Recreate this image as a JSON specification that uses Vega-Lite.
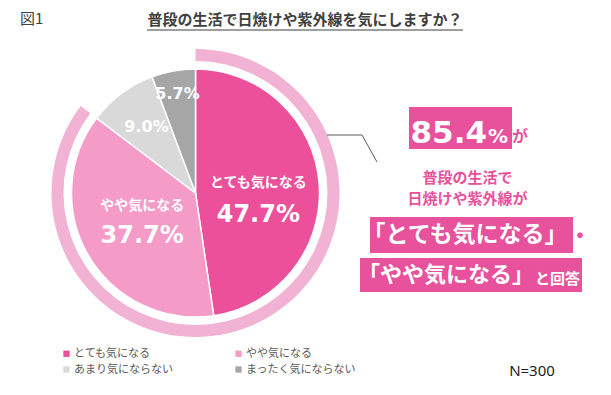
{
  "$schema": "https://vega.github.io/schema/vega-lite/v6.json",
  "width": 611,
  "height": 395,
  "padding": 0,
  "autosize": {"type": "none"},
  "background": "white",
  "config": {"view": {"stroke": null}},
  "data": {"values": [
    {"cat": "とても気になる", "value": 47.7, "label": "47.7%", "rank": 1},
    {"cat": "やや気になる", "value": 37.7, "label": "37.7%", "rank": 2},
    {"cat": "あまり気にならない", "value": 9.0, "label": "9.0%", "rank": 3},
    {"cat": "まったく気にならない", "value": 5.7, "label": "5.7%", "rank": 4}
  ]},
  "layer": [
    {
      "transform": [
        {"filter": {"field": "cat", "oneOf": ["とても気になる", "やや気になる"]}},
        {"aggregate": [{"op": "sum", "field": "value", "as": "total"}]}
      ],
      "mark": {"type": "arc", "radius": 144, "radius2": 132, "color": "#f2b2d3"},
      "encoding": {
        "theta": {"field": "total", "type": "quantitative", "stack": true},
        "x": {"datum": 195.5, "type": "quantitative", "scale": {"domain": [0, 611], "nice": false, "zero": false}, "axis": null},
        "y": {"datum": 193, "type": "quantitative", "scale": {"domain": [0, 395], "nice": false, "zero": false, "reverse": true}, "axis": null}
      }
    },
    {
      "mark": {"type": "arc", "radius": 124, "stroke": "white", "strokeWidth": 1.5},
      "encoding": {
        "theta": {"field": "value", "type": "quantitative", "stack": true},
        "order": {"field": "rank"},
        "color": {
          "field": "cat", "type": "nominal",
          "scale": {"domain": ["とても気になる", "やや気になる", "あまり気にならない", "まったく気にならない"], "range": ["#ec509b", "#f59bc8", "#d9d9d9", "#a6a6a6"]},
          "legend": {"orient": "none", "direction": "horizontal", "legendX": 61, "legendY": 348, "columns": 2, "columnPadding": 60, "rowPadding": 4, "symbolType": "square", "symbolSize": 40, "symbolStrokeWidth": 0, "labelFont": "Noto Sans CJK JP", "labelFontSize": 11, "labelColor": "#595959", "title": null, "labelOffset": 2, "padding": 0}
        },
        "x": {"datum": 195.5, "type": "quantitative"},
        "y": {"datum": 193, "type": "quantitative"}
      }
    },
    {
      "mark": {"type": "text", "radius": 63, "dy": -5.5, "font": "Noto Sans CJK JP", "fontSize": 14, "fontWeight": "bold", "color": "white"},
      "encoding": {
        "theta": {"field": "value", "type": "quantitative", "stack": true},
        "order": {"field": "rank"}, "detail": {"field": "cat"},
        "x": {"datum": 195.5, "type": "quantitative"}, "y": {"datum": 193, "type": "quantitative"},
        "text": {"condition": {"test": "datum.cat === 'とても気になる'", "field": "cat"}, "value": ""}
      }
    },
    {
      "mark": {"type": "text", "radius": 63, "dy": 26.5, "font": "DejaVu Sans", "fontSize": 24, "fontWeight": "bold", "color": "white"},
      "encoding": {
        "theta": {"field": "value", "type": "quantitative", "stack": true},
        "order": {"field": "rank"}, "detail": {"field": "cat"},
        "x": {"datum": 195.5, "type": "quantitative"}, "y": {"datum": 193, "type": "quantitative"},
        "text": {"condition": {"test": "datum.cat === 'とても気になる'", "field": "label"}, "value": ""}
      }
    },
    {
      "mark": {"type": "text", "radius": 62, "dy": -19, "font": "Noto Sans CJK JP", "fontSize": 14, "fontWeight": "bold", "color": "white"},
      "encoding": {
        "theta": {"field": "value", "type": "quantitative", "stack": true},
        "order": {"field": "rank"}, "detail": {"field": "cat"},
        "x": {"datum": 195.5, "type": "quantitative"}, "y": {"datum": 193, "type": "quantitative"},
        "text": {"condition": {"test": "datum.cat === 'やや気になる'", "field": "cat"}, "value": ""}
      }
    },
    {
      "mark": {"type": "text", "radius": 62, "dy": 11, "font": "DejaVu Sans", "fontSize": 24, "fontWeight": "bold", "color": "white"},
      "encoding": {
        "theta": {"field": "value", "type": "quantitative", "stack": true},
        "order": {"field": "rank"}, "detail": {"field": "cat"},
        "x": {"datum": 195.5, "type": "quantitative"}, "y": {"datum": 193, "type": "quantitative"},
        "text": {"condition": {"test": "datum.cat === 'やや気になる'", "field": "label"}, "value": ""}
      }
    },
    {
      "mark": {"type": "text", "radius": 82, "font": "DejaVu Sans", "fontSize": 16, "fontWeight": "bold", "color": "white"},
      "encoding": {
        "theta": {"field": "value", "type": "quantitative", "stack": true},
        "order": {"field": "rank"}, "detail": {"field": "cat"},
        "x": {"datum": 195.5, "type": "quantitative"}, "y": {"datum": 193, "type": "quantitative"},
        "text": {"condition": {"test": "datum.cat === 'あまり気にならない'", "field": "label"}, "value": ""}
      }
    },
    {
      "mark": {"type": "text", "radius": 101, "font": "DejaVu Sans", "fontSize": 16, "fontWeight": "bold", "color": "white"},
      "encoding": {
        "theta": {"field": "value", "type": "quantitative", "stack": true},
        "order": {"field": "rank"}, "detail": {"field": "cat"},
        "x": {"datum": 195.5, "type": "quantitative"}, "y": {"datum": 193, "type": "quantitative"},
        "text": {"condition": {"test": "datum.cat === 'まったく気にならない'", "field": "label"}, "value": ""}
      }
    },
    {
      "data": {"values": [{"t": "図1"}]},
      "mark": {"type": "text", "align": "left", "baseline": "middle", "font": "Noto Sans CJK JP", "fontSize": 15, "color": "#404040"},
      "encoding": {"text": {"field": "t"}, "x": {"datum": 20, "type": "quantitative"}, "y": {"datum": 19, "type": "quantitative"}}
    },
    {
      "data": {"values": [{"t": "普段の生活で日焼けや紫外線を気にしますか？"}]},
      "mark": {"type": "text", "align": "center", "baseline": "middle", "font": "Noto Sans CJK JP", "fontSize": 15, "fontWeight": "bold", "color": "#404040"},
      "encoding": {"text": {"field": "t"}, "x": {"datum": 305, "type": "quantitative"}, "y": {"datum": 20, "type": "quantitative"}}
    },
    {
      "data": {"values": [{"t": "underline"}]},
      "mark": {"type": "rule", "color": "#7f7f7f", "strokeWidth": 1.5},
      "encoding": {"x": {"datum": 147, "type": "quantitative"}, "x2": {"datum": 463}, "y": {"datum": 30, "type": "quantitative"}}
    },
    {
      "data": {"values": [{"t": "connector"}]},
      "mark": {"type": "rule", "color": "#595959", "strokeWidth": 1},
      "encoding": {"x": {"datum": 327, "type": "quantitative"}, "x2": {"datum": 362}, "y": {"datum": 135, "type": "quantitative"}}
    },
    {
      "data": {"values": [{"t": "connector"}]},
      "mark": {"type": "rule", "color": "#595959", "strokeWidth": 1},
      "encoding": {"x": {"datum": 362, "type": "quantitative"}, "x2": {"datum": 377}, "y": {"datum": 135, "type": "quantitative"}, "y2": {"datum": 162}}
    },
    {
      "data": {"values": [{"t": "box"}]},
      "mark": {"type": "rect", "color": "#e8519b"},
      "encoding": {"x": {"datum": 409, "type": "quantitative"}, "x2": {"datum": 512}, "y": {"datum": 107, "type": "quantitative"}, "y2": {"datum": 149}}
    },
    {
      "data": {"values": [{"t": "box"}]},
      "mark": {"type": "rect", "color": "#e8519b"},
      "encoding": {"x": {"datum": 370, "type": "quantitative"}, "x2": {"datum": 573}, "y": {"datum": 217, "type": "quantitative"}, "y2": {"datum": 253}}
    },
    {
      "data": {"values": [{"t": "box"}]},
      "mark": {"type": "rect", "color": "#e8519b"},
      "encoding": {"x": {"datum": 360, "type": "quantitative"}, "x2": {"datum": 582}, "y": {"datum": 258, "type": "quantitative"}, "y2": {"datum": 292}}
    },
    {
      "data": {"values": [{"t": "85.4"}]},
      "mark": {"type": "text", "align": "right", "baseline": "alphabetic", "font": "DejaVu Sans", "fontSize": 31, "fontWeight": "bold", "color": "white"},
      "encoding": {"text": {"field": "t"}, "x": {"datum": 487, "type": "quantitative"}, "y": {"datum": 143, "type": "quantitative"}}
    },
    {
      "data": {"values": [{"t": "%"}]},
      "mark": {"type": "text", "align": "left", "baseline": "alphabetic", "font": "DejaVu Sans", "fontSize": 20, "fontWeight": "bold", "color": "white"},
      "encoding": {"text": {"field": "t"}, "x": {"datum": 488, "type": "quantitative"}, "y": {"datum": 143, "type": "quantitative"}}
    },
    {
      "data": {"values": [{"t": "が"}]},
      "mark": {"type": "text", "align": "left", "baseline": "alphabetic", "font": "Noto Sans CJK JP", "fontSize": 16, "fontWeight": "bold", "color": "#e8519b"},
      "encoding": {"text": {"field": "t"}, "x": {"datum": 512, "type": "quantitative"}, "y": {"datum": 142, "type": "quantitative"}}
    },
    {
      "data": {"values": [{"t": ["普段の生活で", "日焼けや紫外線が"]}]},
      "mark": {"type": "text", "align": "center", "baseline": "middle", "font": "Noto Sans CJK JP", "fontSize": 15, "lineHeight": 21, "fontWeight": "bold", "color": "#e8519b"},
      "encoding": {"text": {"field": "t"}, "x": {"datum": 467.5, "type": "quantitative"}, "y": {"datum": 178, "type": "quantitative"}}
    },
    {
      "data": {"values": [{"t": "「とても気になる」"}]},
      "mark": {"type": "text", "align": "center", "baseline": "middle", "font": "Noto Sans CJK JP", "fontSize": 23, "fontWeight": "bold", "color": "white"},
      "encoding": {"text": {"field": "t"}, "x": {"datum": 465, "type": "quantitative"}, "y": {"datum": 235, "type": "quantitative"}}
    },
    {
      "data": {"values": [{"t": "・"}]},
      "mark": {"type": "text", "align": "center", "baseline": "middle", "font": "Noto Sans CJK JP", "fontSize": 22, "fontWeight": "bold", "color": "#e8519b"},
      "encoding": {"text": {"field": "t"}, "x": {"datum": 580, "type": "quantitative"}, "y": {"datum": 236, "type": "quantitative"}}
    },
    {
      "data": {"values": [{"t": "「やや気になる」"}]},
      "mark": {"type": "text", "align": "center", "baseline": "middle", "font": "Noto Sans CJK JP", "fontSize": 22, "fontWeight": "bold", "color": "white"},
      "encoding": {"text": {"field": "t"}, "x": {"datum": 446, "type": "quantitative"}, "y": {"datum": 275, "type": "quantitative"}}
    },
    {
      "data": {"values": [{"t": "と回答"}]},
      "mark": {"type": "text", "align": "left", "baseline": "middle", "font": "Noto Sans CJK JP", "fontSize": 15, "fontWeight": "bold", "color": "white"},
      "encoding": {"text": {"field": "t"}, "x": {"datum": 535, "type": "quantitative"}, "y": {"datum": 279, "type": "quantitative"}}
    },
    {
      "data": {"values": [{"t": "N=300"}]},
      "mark": {"type": "text", "align": "center", "baseline": "middle", "font": "Noto Sans", "fontSize": 15, "color": "#222222"},
      "encoding": {"text": {"field": "t"}, "x": {"datum": 532, "type": "quantitative"}, "y": {"datum": 371, "type": "quantitative"}}
    }
  ]
}
